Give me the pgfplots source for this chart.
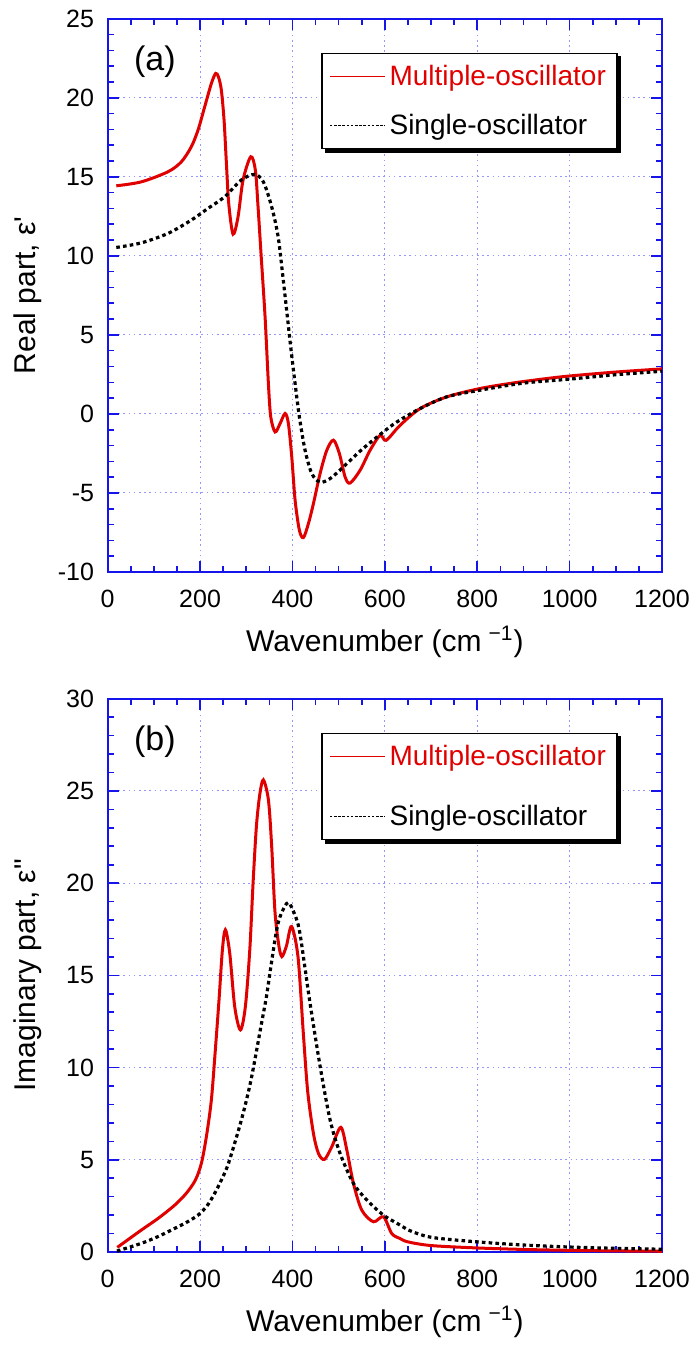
\documentclass[border=0pt]{standalone}
\usepackage{fontspec}
\setmainfont{Liberation Sans}
\usepackage{pgfplots}
\pgfplotsset{compat=1.18}

\definecolor{curvered}{RGB}{225,0,0}
\definecolor{frameblue}{RGB}{20,20,235}
\definecolor{gridblue}{RGB}{150,150,255}

\pgfplotsset{
  panel/.style={
    scale only axis, width=277.15pt, height=276.65pt,
    xmin=0, xmax=1200, xtick={0,200,...,1200}, minor x tick num=3,
    minor y tick num=4,
    tick align=inside, tick pos=both,
    major tick length=5.5pt, minor tick length=3pt,
    axis line style={frameblue, line width=1pt},
    every tick/.style={frameblue, line width=0.8pt},
    grid=major,
    major grid style={gridblue, line width=0.5pt, dash pattern=on 0.8pt off 1.8pt},
    tick label style={font=\fontsize{12.5}{15}\selectfont},
    /pgf/number format/assume math mode=true,
    /pgf/number format/set thousands separator={},
    xticklabel style={yshift=-5.5pt},
    yticklabel style={xshift=-3.3pt},
    label style={font=\fontsize{15}{18}\selectfont},
    xlabel={Wavenumber (cm\textsuperscript{\,\,−1})},
    xlabel style={at={(axis description cs:0.5,-0.143)}, anchor=base},
    ylabel style={at={(axis description cs:-0.1438,0.5)}, rotate=0, anchor=center},
    legend cell align=left,
    legend image code/.code={\draw[#1] (0pt,0pt) -- (27.5pt,0pt);},
  },
  legbox/.style 2 args={
    legend style={name=#2, at={(0.385,0.9386)}, anchor=north west, draw=black,
      line width=0.9pt, fill=white, font=\fontsize{14}{16.8}\selectfont,
      inner xsep=3.5pt, inner ysep=3.7pt, row sep=#1},
  },
  redline/.style={curvered, line width=1.5pt, smooth, tension=0.5},
  blackdots/.style={black, line width=1.6pt, dash pattern=on 1.8pt off 1.6pt, smooth, tension=0.5},
}

\newcommand\legshadow[1]{%
  \fill[black] ([xshift=1.7pt,yshift=-1.7pt]#1.south west) rectangle ([xshift=1.7pt]#1.south east);
  \fill[black] ([yshift=-1.7pt]#1.north east) rectangle ([xshift=1.7pt,yshift=-1.7pt]#1.south east);}

\begin{document}
\begin{tikzpicture}
\useasboundingbox (0,0) rectangle (349pt,-675pt);

% (a) real part
\begin{axis}[panel, legbox={8.8pt}{legA}, at={(53.85pt,-286pt)}, anchor=south west,
  ymin=-10, ymax=25, ytick={-10,-5,...,25},
  ylabel={Real part, ε\textquotesingle}]
\addlegendimage{curvered, line width=0.8pt}
\addlegendentry{\textcolor{curvered}{Multiple-oscillator}}
\addlegendimage{black, line width=0.7pt, dash pattern=on 1.3pt off 0.8pt}
\addlegendentry{Single-oscillator}

\addplot[redline, forget plot] coordinates {
(18.6,14.43) (72.8,14.68) (130.6,15.32) (159.5,15.95) (181,16.9) (195.6,17.96)
(210,19.43) (224.4,20.9) (233.8,21.54) (240,21.3) (246,20.49) (251.9,18.59)
(257,15.85) (262,13.32) (271.4,11.37) (282.2,12.47) (293,14.79) (309.7,16.27)
(319.7,15.42) (325.5,13.1) (332,10.1) (340.7,6.14) (347.9,1.92) (353,-0.19)
(362.4,-1.14) (373.2,-0.61) (384,0.03) (391.2,-0.61) (398.5,-2.72) (405.7,-5.46)
(415,-7.36) (423.7,-7.82) (434.5,-6.94) (445.4,-5.67) (459.8,-3.77) (474.3,-2.30)
(488.7,-1.66) (501.6,-2.51) (514,-3.99) (524.8,-4.37) (546.5,-3.56) (568,-2.30)
(589.8,-1.35) (602.8,-1.67) (633,-0.72) (676.4,0.34) (734.2,1.08) (806.4,1.61)
(878.5,1.96) (950.8,2.24) (1000,2.4) (1100,2.65) (1200,2.85)
};
\addplot[blackdots, forget plot] coordinates {
(18.6,10.53) (72.8,10.82) (130.6,11.42) (181,12.26) (217,13.0) (253,13.73)
(289,14.79) (318,15.15) (337,14.68) (355,13.1) (369,11.2) (380,8.5)
(389,6.14) (397,4.03) (405.7,1.92) (415,-0.19) (427.3,-2.30) (441.8,-3.77)
(459.8,-4.32) (481.5,-4.09) (510.3,-3.35) (546.5,-2.35) (589.8,-1.3) (626,-0.51)
(676.4,0.34) (734,1.08) (806,1.5) (900,1.95) (1000,2.2) (1100,2.48) (1200,2.7)
};
\node[font=\fontsize{17}{20}\selectfont] at (axis cs:102,22.26) {(a)};
\end{axis}
\legshadow{legA}

% (b) imaginary part
\begin{axis}[panel, legbox={14.3pt}{legB}, at={(53.85pt,-626pt)}, anchor=south west,
  ymin=0, ymax=30, ytick={0,5,...,30},
  ylabel={Imaginary part, ε\textquotedbl}]
\addlegendimage{curvered, line width=0.8pt}
\addlegendentry{\textcolor{curvered}{Multiple-oscillator}}
\addlegendimage{black, line width=0.7pt, dash pattern=on 1.3pt off 0.8pt}
\addlegendentry{Single-oscillator}

\addplot[redline, forget plot] coordinates {
(20.8,0.25) (72.8,1.19) (109,1.82) (145,2.54) (170,3.18) (189.8,3.90)
(202.8,4.81) (213.6,6.25) (224.4,8.24) (233,10.95) (241,13.67) (248.3,16.38)
(254.8,17.47) (264.2,16.2) (275,13.3) (287.3,12.04) (298,13.3) (307.6,16.38)
(314.7,20.0) (321.9,23.07) (329.2,24.8) (337,25.6) (348,24.5) (355,22.0)
(362,18.5) (370,16.7) (377,16.02) (387,16.6) (398,17.65) (412,16.0)
(423.5,11.86) (433,8.7) (445.4,6.43) (456.2,5.35) (469.2,5.02) (485.2,5.71)
(504.7,6.76) (517.7,5.53) (532,3.72) (550.1,2.27) (575.3,1.64) (597,1.91)
(615,1.0) (633,0.73) (650,0.55) (700,0.35) (800,0.22) (900,0.14)
(1000,0.09) (1100,0.06) (1200,0.04)
};
\addplot[blackdots, forget plot] coordinates {
(20,0.05) (72.8,0.47) (110,0.85) (145,1.28) (170,1.6) (195.6,2.0) (215,2.5)
(231.6,3.18) (247,3.95) (262,4.85)
(289.4,7.16) (310,9.3) (333,12.4) (344,13.9) (354,15.6) (366,17.5)
(375,18.3) (391,18.95) (408,18.1) (416,17.3) (426,15.6) (438,13.5)
(460,10.05) (481.5,7.16) (503,5.35) (532,3.72) (561,2.82) (597,2.0)
(633,1.46) (650,1.2) (700,0.8) (800,0.55) (900,0.38) (1000,0.27)
(1100,0.2) (1200,0.15)
};
\node[font=\fontsize{17}{20}\selectfont] at (axis cs:102,27.67) {(b)};
\end{axis}
\legshadow{legB}
\end{tikzpicture}
\end{document}
